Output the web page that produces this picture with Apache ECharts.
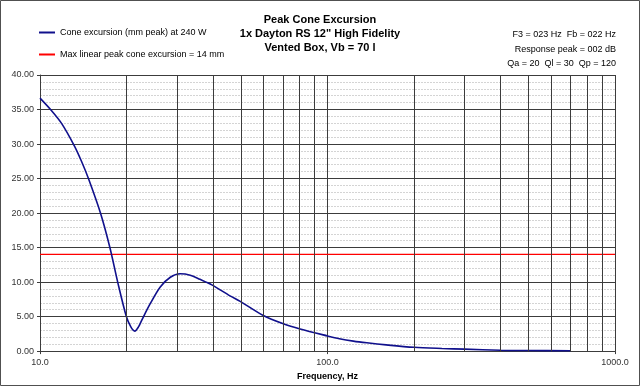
<!DOCTYPE html>
<html><head><meta charset="utf-8">
<script src="https://cdn.jsdelivr.net/npm/echarts@6/dist/echarts.min.js"></script>
<style>html,body{margin:0;padding:0;background:#fff}#c{width:640px;height:386px}</style>
</head><body><div id="c"></div>
<script>
// Data
const freqHz = [10, 10.88, 11.9, 13.18, 13.94, 14.74, 16.23, 17.5, 18.63, 19.97, 20.7, 21.36, 22.0, 22.6, 24.2, 26.2, 28.4, 30.7, 33.3, 36.0, 39.6, 45.8, 49.7, 59.8, 70.2, 80.3, 100, 110, 123, 137, 160, 200, 250, 300, 400, 500, 700];
const excursionMm = [36.65, 35.0, 32.95, 29.7, 27.5, 25.0, 20.0, 15.0, 10.0, 5.0, 3.5, 2.9, 3.5, 4.5, 6.9, 9.3, 10.7, 11.2, 11.0, 10.4, 9.6, 8.0, 7.2, 5.15, 3.95, 3.2, 2.2, 1.8, 1.45, 1.2, 0.9, 0.55, 0.38, 0.28, 0.12, 0.08, 0.05];
const xmaxMm = 14;
const xRange = [10, 1000];
const minorFreqGrid = [20, 30, 40, 50, 60, 70, 80, 90, 200, 300, 400, 500, 600, 700, 800, 900];
const yTickLabels = ['0.00','5.00','10.00','15.00','20.00','25.00','30.00','35.00','40.00'];
const titleLines = ['Peak Cone Excursion', '1x Dayton RS 12" High Fidelity', 'Vented Box, Vb = 70 l'];
const infoLines = ['F3 = 023 Hz  Fb = 022 Hz', 'Response peak = 002 dB', 'Qa = 20  Ql = 30  Qp = 120'];
const seriesNames = ['Cone excursion (mm peak) at 240 W', 'Max linear peak cone excursion = 14 mm'];

const FONT = '"Liberation Sans", Arial, sans-serif';
const chart = echarts.init(document.getElementById('c'), null, {renderer: 'canvas'});
const gridColor = '#3c3c3c';
const graphics = [
  {type: 'rect', shape: {x: 0.5, y: 0.5, width: 639, height: 385}, style: {fill: 'none', stroke: '#505050', lineWidth: 1}, silent: true}
];
titleLines.forEach((t, i) => graphics.push({
  type: 'text', x: 320, y: 20 + 14 * i,
  style: {text: t, font: 'bold 11px ' + FONT, textAlign: 'center', textVerticalAlign: 'middle', fill: '#000'}
}));
infoLines.forEach((t, i) => graphics.push({
  type: 'text', x: 616, y: 35 + 14.5 * i,
  style: {text: t, font: '9px ' + FONT, textAlign: 'right', textVerticalAlign: 'middle', fill: '#000'}
}));
chart.setOption({
  animation: false,
  backgroundColor: '#fff',
  textStyle: {fontFamily: FONT},
  graphic: graphics,
  legend: {
    orient: 'vertical', left: 39, top: 28, padding: 0, itemWidth: 16, itemHeight: 2, itemGap: 13,
    icon: 'rect',
    textStyle: {fontSize: 9, color: '#000', fontFamily: FONT},
    data: seriesNames
  },
  grid: {left: 40, right: 25, top: 75, bottom: 31, containLabel: false},
  xAxis: {
    type: 'log', logBase: 10, min: xRange[0], max: xRange[1],
    name: 'Frequency, Hz', nameLocation: 'middle', nameGap: 17,
    nameTextStyle: {fontWeight: 'bold', fontSize: 9, color: '#000', fontFamily: FONT},
    axisLine: {show: true, lineStyle: {color: gridColor}},
    axisTick: {show: true, length: 3, lineStyle: {color: gridColor}},
    axisLabel: {fontSize: 9, color: '#333', margin: 7, formatter: v => Number(v).toFixed(1)},
    splitLine: {show: true, lineStyle: {color: gridColor, width: 1}},
    minorTick: {show: false}, minorSplitLine: {show: false}
  },
  yAxis: {
    type: 'value', min: 0, max: 40, interval: 5,
    axisLine: {show: true, lineStyle: {color: gridColor}},
    axisTick: {show: true, length: 3, lineStyle: {color: gridColor}},
    axisLabel: {fontSize: 9, color: '#333', margin: 6, formatter: v => yTickLabels[Math.round(v / 5)]},
    splitLine: {show: true, lineStyle: {color: gridColor, width: 1}},
    minorTick: {show: false, splitNumber: 5},
    minorSplitLine: {show: true, lineStyle: {color: '#d4d4d4', width: 1, type: [2, 1]}}
  },
  series: [
    {
      name: seriesNames[0], type: 'line', smooth: 0.3, symbol: 'none', z: 4,
      lineStyle: {color: '#10108c', width: 1.6}, itemStyle: {color: '#10108c'},
      data: freqHz.map((f, i) => [f, excursionMm[i]]),
      markLine: {
        silent: true, symbol: ['none', 'none'], label: {show: false},
        lineStyle: {color: gridColor, width: 1, type: 'solid'},
        emphasis: {disabled: true},
        data: minorFreqGrid.map(f => ({xAxis: f}))
      }
    },
    {
      name: seriesNames[1], type: 'line', symbol: 'none', z: 3,
      lineStyle: {color: '#ff0000', width: 1.2}, itemStyle: {color: '#ff0000'},
      data: [[xRange[0], xmaxMm], [xRange[1], xmaxMm]]
    }
  ]
});
</script></body></html>
